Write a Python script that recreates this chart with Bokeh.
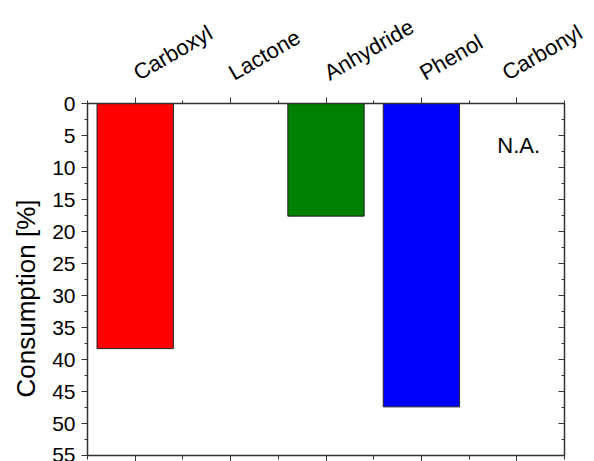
import math
from bokeh.plotting import figure
from bokeh.models import (Range1d, LinearAxis, FixedTicker, ColumnDataSource, Label, Title)
from bokeh.embed import file_html
from bokeh.resources import INLINE

categories = ["Carboxyl", "Lactone", "Anhydride", "Phenol", "Carbonyl"]
positions = [1, 2, 3, 4, 5]
bar_cats = ["Carboxyl", "Anhydride", "Phenol"]
bar_values = [38.3, 17.6, 47.4]
bar_colors = ["#ff0000", "#008000", "#0000ff"]
y_ticks = list(range(0, 60, 5))
y_title = "Consumption [%]"
na_text = "N.A."

FONT = "Liberation Sans"

bar_x = [positions[categories.index(c)] for c in bar_cats]
src = ColumnDataSource(dict(x=bar_x, top=[0] * len(bar_x), bottom=bar_values, color=bar_colors))

p = figure(width=586, height=461, output_backend="svg", toolbar_location=None,
           x_range=Range1d(0.5, 5.5), y_range=Range1d(55, 0),
           x_axis_location=None, y_axis_location=None,
           min_border_left=87, min_border_right=22, min_border_top=103, min_border_bottom=0)
p.grid.visible = False
p.outline_line_color = None
p.background_fill_color = "white"

p.vbar(x="x", top="top", bottom="bottom", width=0.8, fill_color="color",
       line_color="#222222", line_width=1, source=src)

minor_x = [0.5 + i for i in range(6)]

# top axis
top = LinearAxis(ticker=FixedTicker(ticks=positions, minor_ticks=minor_x),
                 major_label_overrides={pos: c for pos, c in zip(positions, categories)})
top.major_label_orientation = math.radians(30)
top.major_label_text_font = FONT
top.major_label_text_font_size = "22px"
top.major_label_text_color = "black"
top.major_tick_out = 6
top.major_tick_in = 0
top.minor_tick_out = 3
top.minor_tick_in = 0
top.major_label_standoff = 23
top.axis_line_color = "#333333"
top.major_tick_line_color = "#333333"
top.minor_tick_line_color = "#333333"
top.axis_line_width = 1.5
p.add_layout(top, "above")

# bottom axis (ticks only)
bot = LinearAxis(ticker=FixedTicker(ticks=positions, minor_ticks=minor_x))
bot.major_label_text_font_size = "0px"
bot.major_label_standoff = 0
bot.major_tick_out = 6
bot.major_tick_in = 0
bot.minor_tick_out = 4
bot.minor_tick_in = 0
bot.axis_line_color = "#333333"
bot.major_tick_line_color = "#333333"
bot.minor_tick_line_color = "#333333"
bot.axis_line_width = 1.5
p.add_layout(bot, "below")

minor_y = [i * 2.5 for i in range(23)]

# left axis
left = LinearAxis(ticker=FixedTicker(ticks=y_ticks, minor_ticks=minor_y))
left.major_label_text_font = FONT
left.major_label_text_font_size = "21px"
left.major_label_text_color = "black"
left.major_tick_out = 6
left.major_tick_in = 0
left.minor_tick_out = 3
left.minor_tick_in = 0
left.major_label_standoff = 6
left.axis_line_color = "#333333"
left.major_tick_line_color = "#333333"
left.minor_tick_line_color = "#333333"
left.axis_line_width = 1.5
p.add_layout(left, "left")

# y-axis title as a side title, shifted along the axis
ttl = Title(text=y_title, align="left", offset=58, text_font=FONT, text_font_size="26px",
            text_font_style="normal", text_color="black", standoff=17)
p.add_layout(ttl, "left")

# right axis (inward ticks)
right = LinearAxis(ticker=FixedTicker(ticks=y_ticks, minor_ticks=minor_y))
right.major_label_text_font_size = "0px"
right.major_label_standoff = 0
right.major_tick_out = 0
right.major_tick_in = 6
right.minor_tick_out = 0
right.minor_tick_in = 3
right.axis_line_color = "#333333"
right.major_tick_line_color = "#333333"
right.minor_tick_line_color = "#333333"
right.axis_line_width = 1.5
p.add_layout(right, "right")

p.add_layout(Label(x=5.02, y=6.6, text=na_text, text_align="center", text_baseline="middle",
                   text_font=FONT, text_font_size="22px", text_color="black"))

open("out.html", "w").write(file_html(p, INLINE))
